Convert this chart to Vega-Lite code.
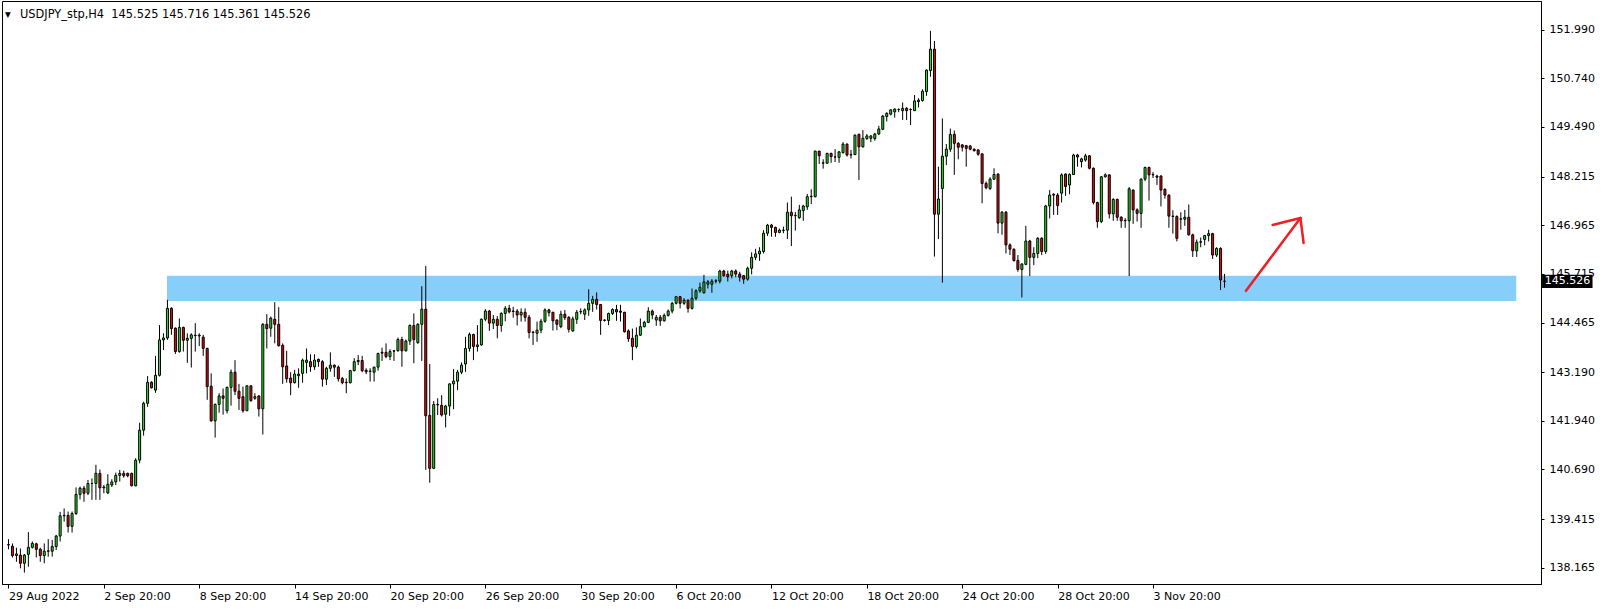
{
"$schema":"https://vega.github.io/schema/vega-lite/v6.json",
"width":1539,"height":583,"autosize":"none",
"padding":{"left":2,"top":1,"right":63,"bottom":26},
"background":"white",
"title":{"text":"▾\u2002 USDJPY_stp,H4\u00a0 145.525 145.716 145.361 145.526","anchor":"start","frame":"group","offset":-17,"dx":3,"dy":8,"font":"DejaVu Sans","fontSize":11.4,"fontWeight":"normal","color":"black","baseline":"middle"},
"datasets":{
"bars":[
{"i":0,"o":138.75,"h":138.90,"l":138.64,"c":138.76},
{"i":1,"o":138.72,"h":138.79,"l":138.43,"c":138.48},
{"i":2,"o":138.48,"h":138.68,"l":138.32,"c":138.52},
{"i":3,"o":138.49,"h":138.66,"l":138.15,"c":138.28},
{"i":4,"o":138.28,"h":138.52,"l":138.04,"c":138.49},
{"i":5,"o":138.51,"h":139.08,"l":138.19,"c":138.69},
{"i":6,"o":138.69,"h":138.84,"l":138.66,"c":138.79},
{"i":7,"o":138.78,"h":138.81,"l":138.43,"c":138.64},
{"i":8,"o":138.64,"h":138.68,"l":138.32,"c":138.48},
{"i":9,"o":138.48,"h":138.79,"l":138.28,"c":138.59},
{"i":10,"o":138.59,"h":138.90,"l":138.45,"c":138.60},
{"i":11,"o":138.59,"h":138.88,"l":138.45,"c":138.71},
{"i":12,"o":138.71,"h":139.01,"l":138.62,"c":138.98},
{"i":13,"o":138.98,"h":139.60,"l":138.84,"c":139.50},
{"i":14,"o":139.50,"h":139.69,"l":139.35,"c":139.51},
{"i":15,"o":139.51,"h":139.61,"l":139.07,"c":139.23},
{"i":16,"o":139.23,"h":139.61,"l":139.07,"c":139.56},
{"i":17,"o":139.56,"h":140.23,"l":139.52,"c":140.05},
{"i":18,"o":140.05,"h":140.25,"l":139.92,"c":140.21},
{"i":19,"o":140.21,"h":140.27,"l":139.86,"c":140.08},
{"i":20,"o":140.08,"h":140.42,"l":140.03,"c":140.33},
{"i":21,"o":140.33,"h":140.46,"l":139.91,"c":140.33},
{"i":22,"o":140.33,"h":140.81,"l":139.91,"c":140.59},
{"i":23,"o":140.59,"h":140.69,"l":139.91,"c":140.22},
{"i":24,"o":140.22,"h":140.29,"l":140.08,"c":140.24},
{"i":25,"o":140.09,"h":140.57,"l":140.06,"c":140.31},
{"i":26,"o":140.29,"h":140.44,"l":140.24,"c":140.37},
{"i":27,"o":140.37,"h":140.61,"l":140.29,"c":140.54},
{"i":28,"o":140.54,"h":140.68,"l":140.38,"c":140.59},
{"i":29,"o":140.59,"h":140.66,"l":140.48,"c":140.53},
{"i":30,"o":140.59,"h":140.61,"l":140.49,"c":140.53},
{"i":31,"o":140.59,"h":140.61,"l":140.26,"c":140.27},
{"i":32,"o":140.27,"h":140.98,"l":140.26,"c":140.93},
{"i":33,"o":140.93,"h":141.89,"l":140.85,"c":141.70},
{"i":34,"o":141.70,"h":142.43,"l":141.56,"c":142.39},
{"i":35,"o":142.39,"h":143.09,"l":142.30,"c":142.93},
{"i":36,"o":142.93,"h":142.96,"l":142.77,"c":142.79},
{"i":37,"o":142.73,"h":143.61,"l":142.66,"c":143.11},
{"i":38,"o":143.11,"h":144.40,"l":143.08,"c":144.02},
{"i":39,"o":144.02,"h":144.19,"l":143.76,"c":144.07},
{"i":40,"o":144.07,"h":145.05,"l":144.02,"c":144.83},
{"i":41,"o":144.83,"h":144.86,"l":144.15,"c":144.31},
{"i":42,"o":144.32,"h":144.34,"l":143.66,"c":143.72},
{"i":43,"o":143.72,"h":144.57,"l":143.69,"c":144.34},
{"i":44,"o":144.34,"h":144.36,"l":143.72,"c":144.01},
{"i":45,"o":144.01,"h":144.19,"l":143.43,"c":144.06},
{"i":46,"o":144.06,"h":144.19,"l":143.31,"c":144.15},
{"i":47,"o":144.13,"h":144.45,"l":143.72,"c":144.14},
{"i":48,"o":144.14,"h":144.19,"l":143.86,"c":144.12},
{"i":49,"o":144.09,"h":144.15,"l":143.61,"c":143.80},
{"i":50,"o":143.80,"h":143.82,"l":142.48,"c":142.82},
{"i":51,"o":142.83,"h":143.16,"l":141.92,"c":141.94},
{"i":52,"o":141.94,"h":142.39,"l":141.51,"c":142.36},
{"i":53,"o":142.36,"h":142.65,"l":142.15,"c":142.58},
{"i":54,"o":142.58,"h":142.77,"l":142.10,"c":142.52},
{"i":55,"o":142.20,"h":142.82,"l":142.13,"c":142.80},
{"i":56,"o":142.80,"h":143.26,"l":142.33,"c":143.19},
{"i":57,"o":143.19,"h":143.50,"l":142.60,"c":142.70},
{"i":58,"o":142.70,"h":142.89,"l":142.22,"c":142.52},
{"i":59,"o":142.56,"h":142.82,"l":142.15,"c":142.20},
{"i":60,"o":142.20,"h":142.85,"l":142.19,"c":142.84},
{"i":61,"o":142.84,"h":142.85,"l":142.43,"c":142.46},
{"i":62,"o":142.52,"h":142.65,"l":142.48,"c":142.56},
{"i":63,"o":142.58,"h":142.60,"l":142.05,"c":142.25},
{"i":64,"o":142.25,"h":144.45,"l":141.59,"c":144.42},
{"i":65,"o":144.42,"h":144.68,"l":143.80,"c":144.31},
{"i":66,"o":144.32,"h":144.62,"l":144.10,"c":144.58},
{"i":67,"o":144.55,"h":144.99,"l":143.93,"c":144.42},
{"i":68,"o":144.42,"h":144.86,"l":143.85,"c":143.87},
{"i":69,"o":143.88,"h":143.93,"l":142.89,"c":143.33},
{"i":70,"o":143.35,"h":143.74,"l":142.92,"c":143.02},
{"i":71,"o":143.04,"h":143.19,"l":142.60,"c":142.92},
{"i":72,"o":142.92,"h":143.25,"l":142.90,"c":143.14},
{"i":73,"o":143.10,"h":143.29,"l":142.79,"c":143.14},
{"i":74,"o":143.16,"h":143.54,"l":142.92,"c":143.50},
{"i":75,"o":143.44,"h":143.80,"l":143.16,"c":143.50},
{"i":76,"o":143.46,"h":143.65,"l":143.20,"c":143.33},
{"i":77,"o":143.33,"h":143.65,"l":143.25,"c":143.50},
{"i":78,"o":143.52,"h":143.54,"l":143.33,"c":143.46},
{"i":79,"o":143.46,"h":143.50,"l":142.82,"c":143.01},
{"i":80,"o":143.01,"h":143.33,"l":142.86,"c":143.29},
{"i":81,"o":143.29,"h":143.70,"l":143.20,"c":143.37},
{"i":82,"o":143.37,"h":143.39,"l":143.07,"c":143.32},
{"i":83,"o":143.32,"h":143.36,"l":142.95,"c":143.02},
{"i":84,"o":143.03,"h":143.07,"l":142.88,"c":142.92},
{"i":85,"o":142.93,"h":143.03,"l":142.65,"c":142.92},
{"i":86,"o":142.92,"h":143.25,"l":142.90,"c":143.23},
{"i":87,"o":143.23,"h":143.55,"l":143.21,"c":143.46},
{"i":88,"o":143.46,"h":143.63,"l":143.37,"c":143.49},
{"i":89,"o":143.49,"h":143.61,"l":143.19,"c":143.23},
{"i":90,"o":143.24,"h":143.29,"l":143.14,"c":143.20},
{"i":91,"o":143.21,"h":143.29,"l":142.95,"c":143.22},
{"i":92,"o":143.19,"h":143.33,"l":142.95,"c":143.32},
{"i":93,"o":143.32,"h":143.69,"l":143.23,"c":143.67},
{"i":94,"o":143.68,"h":143.82,"l":143.48,"c":143.70},
{"i":95,"o":143.70,"h":143.93,"l":143.55,"c":143.59},
{"i":96,"o":143.59,"h":143.78,"l":143.50,"c":143.72},
{"i":97,"o":143.73,"h":143.76,"l":143.48,"c":143.74},
{"i":98,"o":143.74,"h":144.08,"l":143.72,"c":144.03},
{"i":99,"o":144.03,"h":144.10,"l":143.33,"c":143.74},
{"i":100,"o":143.74,"h":144.03,"l":143.72,"c":143.99},
{"i":101,"o":143.99,"h":144.42,"l":143.89,"c":144.39},
{"i":102,"o":144.39,"h":144.70,"l":143.42,"c":144.03},
{"i":103,"o":143.95,"h":144.45,"l":143.92,"c":144.42},
{"i":104,"o":144.42,"h":145.40,"l":143.48,"c":144.81},
{"i":105,"o":144.81,"h":145.92,"l":140.68,"c":142.07},
{"i":106,"o":142.08,"h":143.40,"l":140.35,"c":140.72},
{"i":107,"o":140.72,"h":142.45,"l":140.70,"c":142.36},
{"i":108,"o":142.35,"h":142.52,"l":142.09,"c":142.36},
{"i":109,"o":142.34,"h":142.60,"l":142.05,"c":142.09},
{"i":110,"o":142.11,"h":142.35,"l":141.77,"c":142.32},
{"i":111,"o":142.32,"h":142.90,"l":142.07,"c":142.89},
{"i":112,"o":142.89,"h":143.27,"l":142.24,"c":142.96},
{"i":113,"o":142.96,"h":143.25,"l":142.73,"c":143.19},
{"i":114,"o":143.19,"h":143.44,"l":143.14,"c":143.37},
{"i":115,"o":143.40,"h":144.10,"l":143.20,"c":143.80},
{"i":116,"o":143.80,"h":144.21,"l":143.72,"c":144.16},
{"i":117,"o":144.16,"h":144.18,"l":143.50,"c":143.85},
{"i":118,"o":143.85,"h":144.40,"l":143.72,"c":143.89},
{"i":119,"o":143.89,"h":144.57,"l":143.87,"c":144.55},
{"i":120,"o":144.55,"h":144.81,"l":144.50,"c":144.76},
{"i":121,"o":144.76,"h":144.79,"l":144.25,"c":144.45},
{"i":122,"o":144.45,"h":144.66,"l":144.30,"c":144.55},
{"i":123,"o":144.55,"h":144.63,"l":144.06,"c":144.39},
{"i":124,"o":144.39,"h":144.73,"l":144.23,"c":144.70},
{"i":125,"o":144.70,"h":144.89,"l":144.50,"c":144.83},
{"i":126,"o":144.83,"h":144.92,"l":144.70,"c":144.74},
{"i":127,"o":144.75,"h":144.87,"l":144.59,"c":144.76},
{"i":128,"o":144.76,"h":144.81,"l":144.39,"c":144.66},
{"i":129,"o":144.66,"h":144.83,"l":144.49,"c":144.73},
{"i":130,"o":144.73,"h":144.83,"l":144.49,"c":144.60},
{"i":131,"o":144.60,"h":144.66,"l":144.06,"c":144.21},
{"i":132,"o":144.21,"h":144.25,"l":143.89,"c":144.22},
{"i":133,"o":144.19,"h":144.49,"l":143.97,"c":144.27},
{"i":134,"o":144.27,"h":144.56,"l":144.19,"c":144.50},
{"i":135,"o":144.50,"h":144.83,"l":144.46,"c":144.79},
{"i":136,"o":144.79,"h":144.82,"l":144.62,"c":144.72},
{"i":137,"o":144.73,"h":144.74,"l":144.26,"c":144.51},
{"i":138,"o":144.53,"h":144.55,"l":144.27,"c":144.42},
{"i":139,"o":144.36,"h":144.77,"l":144.32,"c":144.68},
{"i":140,"o":144.68,"h":144.79,"l":144.53,"c":144.59},
{"i":141,"o":144.60,"h":144.63,"l":144.21,"c":144.29},
{"i":142,"o":144.25,"h":144.62,"l":144.23,"c":144.56},
{"i":143,"o":144.55,"h":144.79,"l":144.43,"c":144.73},
{"i":144,"o":144.74,"h":144.83,"l":144.68,"c":144.75},
{"i":145,"o":144.68,"h":144.83,"l":144.53,"c":144.79},
{"i":146,"o":144.79,"h":145.32,"l":144.64,"c":144.96},
{"i":147,"o":144.96,"h":145.15,"l":144.74,"c":145.06},
{"i":148,"o":145.06,"h":145.24,"l":144.80,"c":144.93},
{"i":149,"o":144.93,"h":144.94,"l":144.15,"c":144.52},
{"i":150,"o":144.52,"h":144.55,"l":144.49,"c":144.53},
{"i":151,"o":144.52,"h":144.72,"l":144.40,"c":144.70},
{"i":152,"o":144.70,"h":144.83,"l":144.66,"c":144.80},
{"i":153,"o":144.80,"h":144.92,"l":144.51,"c":144.74},
{"i":154,"o":144.76,"h":144.92,"l":144.49,"c":144.73},
{"i":155,"o":144.73,"h":144.74,"l":144.21,"c":144.23},
{"i":156,"o":144.25,"h":144.29,"l":143.97,"c":144.05},
{"i":157,"o":144.06,"h":144.31,"l":143.50,"c":143.85},
{"i":158,"o":143.85,"h":144.34,"l":143.80,"c":144.14},
{"i":159,"o":144.14,"h":144.57,"l":144.12,"c":144.36},
{"i":160,"o":144.36,"h":144.51,"l":144.34,"c":144.47},
{"i":161,"o":144.47,"h":144.86,"l":144.45,"c":144.76},
{"i":162,"o":144.76,"h":144.80,"l":144.55,"c":144.66},
{"i":163,"o":144.53,"h":144.66,"l":144.38,"c":144.60},
{"i":164,"o":144.60,"h":144.66,"l":144.38,"c":144.51},
{"i":165,"o":144.51,"h":144.70,"l":144.49,"c":144.65},
{"i":166,"o":144.65,"h":144.80,"l":144.62,"c":144.76},
{"i":167,"o":144.76,"h":145.00,"l":144.70,"c":144.96},
{"i":168,"o":144.96,"h":145.15,"l":144.93,"c":145.13},
{"i":169,"o":145.13,"h":145.15,"l":144.83,"c":144.96},
{"i":170,"o":144.96,"h":145.09,"l":144.92,"c":145.04},
{"i":171,"o":145.04,"h":145.06,"l":144.72,"c":144.83},
{"i":172,"o":144.83,"h":145.34,"l":144.80,"c":145.09},
{"i":173,"o":145.09,"h":145.32,"l":145.04,"c":145.28},
{"i":174,"o":145.28,"h":145.49,"l":145.23,"c":145.37},
{"i":175,"o":145.23,"h":145.69,"l":145.21,"c":145.51},
{"i":176,"o":145.45,"h":145.56,"l":145.34,"c":145.51},
{"i":177,"o":145.45,"h":145.58,"l":145.23,"c":145.53},
{"i":178,"o":145.53,"h":145.58,"l":145.47,"c":145.54},
{"i":179,"o":145.53,"h":145.82,"l":145.47,"c":145.79},
{"i":180,"o":145.79,"h":145.82,"l":145.64,"c":145.67},
{"i":181,"o":145.71,"h":145.80,"l":145.52,"c":145.64},
{"i":182,"o":145.67,"h":145.82,"l":145.60,"c":145.79},
{"i":183,"o":145.79,"h":145.83,"l":145.63,"c":145.71},
{"i":184,"o":145.71,"h":145.77,"l":145.52,"c":145.63},
{"i":185,"o":145.67,"h":145.69,"l":145.46,"c":145.58},
{"i":186,"o":145.58,"h":145.90,"l":145.54,"c":145.86},
{"i":187,"o":145.86,"h":146.27,"l":145.70,"c":146.14},
{"i":188,"o":146.14,"h":146.36,"l":146.07,"c":146.23},
{"i":189,"o":146.23,"h":146.40,"l":146.05,"c":146.30},
{"i":190,"o":146.29,"h":146.84,"l":146.24,"c":146.76},
{"i":191,"o":146.76,"h":147.00,"l":146.69,"c":146.97},
{"i":192,"o":146.97,"h":147.00,"l":146.67,"c":146.91},
{"i":193,"o":146.91,"h":146.93,"l":146.67,"c":146.78},
{"i":194,"o":146.78,"h":146.88,"l":146.76,"c":146.84},
{"i":195,"o":146.83,"h":146.93,"l":146.76,"c":146.84},
{"i":196,"o":146.84,"h":147.55,"l":146.61,"c":147.30},
{"i":197,"o":147.30,"h":147.70,"l":146.43,"c":147.21},
{"i":198,"o":147.21,"h":147.31,"l":146.83,"c":147.22},
{"i":199,"o":147.16,"h":147.49,"l":147.13,"c":147.36},
{"i":200,"o":147.34,"h":147.49,"l":147.08,"c":147.46},
{"i":201,"o":147.44,"h":147.77,"l":147.36,"c":147.70},
{"i":202,"o":147.70,"h":147.89,"l":147.51,"c":147.71},
{"i":203,"o":147.70,"h":148.88,"l":147.68,"c":148.87},
{"i":204,"o":148.87,"h":148.87,"l":148.54,"c":148.75},
{"i":205,"o":148.56,"h":148.66,"l":148.42,"c":148.57},
{"i":206,"o":148.56,"h":148.83,"l":148.54,"c":148.81},
{"i":207,"o":148.81,"h":148.83,"l":148.57,"c":148.73},
{"i":208,"o":148.72,"h":148.92,"l":148.59,"c":148.72},
{"i":209,"o":148.71,"h":148.87,"l":148.57,"c":148.85},
{"i":210,"o":148.83,"h":149.10,"l":148.81,"c":149.05},
{"i":211,"o":149.05,"h":149.07,"l":148.73,"c":148.77},
{"i":212,"o":148.78,"h":148.90,"l":148.68,"c":148.77},
{"i":213,"o":148.78,"h":149.30,"l":148.77,"c":149.28},
{"i":214,"o":149.30,"h":149.32,"l":148.13,"c":148.98},
{"i":215,"o":148.98,"h":149.41,"l":148.96,"c":149.20},
{"i":216,"o":149.19,"h":149.31,"l":149.16,"c":149.26},
{"i":217,"o":149.20,"h":149.28,"l":149.10,"c":149.26},
{"i":218,"o":149.19,"h":149.34,"l":149.14,"c":149.31},
{"i":219,"o":149.31,"h":149.52,"l":149.28,"c":149.44},
{"i":220,"o":149.43,"h":149.80,"l":149.41,"c":149.77},
{"i":221,"o":149.76,"h":149.87,"l":149.63,"c":149.84},
{"i":222,"o":149.82,"h":149.94,"l":149.79,"c":149.93},
{"i":223,"o":149.88,"h":149.97,"l":149.73,"c":149.95},
{"i":224,"o":149.94,"h":149.97,"l":149.87,"c":149.94},
{"i":225,"o":149.91,"h":150.12,"l":149.67,"c":149.97},
{"i":226,"o":149.97,"h":150.00,"l":149.67,"c":149.91},
{"i":227,"o":149.94,"h":149.97,"l":149.54,"c":149.94},
{"i":228,"o":149.91,"h":150.31,"l":149.90,"c":150.16},
{"i":229,"o":150.14,"h":150.23,"l":149.99,"c":150.18},
{"i":230,"o":150.17,"h":150.46,"l":150.14,"c":150.41},
{"i":231,"o":150.40,"h":150.97,"l":150.29,"c":150.95},
{"i":232,"o":150.94,"h":151.96,"l":150.78,"c":151.49},
{"i":233,"o":151.49,"h":151.70,"l":146.16,"c":147.25},
{"i":234,"o":147.25,"h":148.47,"l":146.61,"c":147.64},
{"i":235,"o":147.91,"h":149.71,"l":145.49,"c":148.74},
{"i":236,"o":148.74,"h":149.05,"l":148.51,"c":148.92},
{"i":237,"o":148.92,"h":149.45,"l":148.85,"c":149.30},
{"i":238,"o":149.30,"h":149.40,"l":148.26,"c":149.07},
{"i":239,"o":149.07,"h":149.10,"l":148.66,"c":148.97},
{"i":240,"o":149.03,"h":149.05,"l":148.86,"c":148.97},
{"i":241,"o":149.01,"h":149.03,"l":148.47,"c":148.94},
{"i":242,"o":149.00,"h":149.03,"l":148.89,"c":148.92},
{"i":243,"o":148.92,"h":148.94,"l":148.86,"c":148.88},
{"i":244,"o":148.90,"h":148.92,"l":148.75,"c":148.79},
{"i":245,"o":148.80,"h":148.81,"l":147.53,"c":148.04},
{"i":246,"o":148.04,"h":148.09,"l":147.89,"c":147.93},
{"i":247,"o":147.91,"h":148.20,"l":147.87,"c":148.15},
{"i":248,"o":148.15,"h":148.43,"l":148.13,"c":148.27},
{"i":249,"o":148.28,"h":148.30,"l":146.76,"c":147.02},
{"i":250,"o":147.02,"h":147.33,"l":146.72,"c":147.30},
{"i":251,"o":147.30,"h":147.33,"l":146.24,"c":146.46},
{"i":252,"o":146.46,"h":146.50,"l":146.20,"c":146.35},
{"i":253,"o":146.35,"h":146.37,"l":146.03,"c":146.06},
{"i":254,"o":146.06,"h":146.20,"l":145.77,"c":145.83},
{"i":255,"o":145.83,"h":145.99,"l":145.11,"c":145.97},
{"i":256,"o":145.96,"h":146.95,"l":145.94,"c":146.56},
{"i":257,"o":146.56,"h":146.59,"l":145.66,"c":146.14},
{"i":258,"o":146.14,"h":146.40,"l":145.94,"c":146.24},
{"i":259,"o":146.24,"h":146.66,"l":146.12,"c":146.63},
{"i":260,"o":146.63,"h":146.66,"l":146.20,"c":146.29},
{"i":261,"o":146.29,"h":147.49,"l":146.23,"c":147.46},
{"i":262,"o":147.46,"h":147.87,"l":147.14,"c":147.74},
{"i":263,"o":147.74,"h":147.79,"l":147.23,"c":147.76},
{"i":264,"o":147.74,"h":147.79,"l":147.23,"c":147.47},
{"i":265,"o":147.79,"h":148.30,"l":147.55,"c":148.26},
{"i":266,"o":148.28,"h":148.30,"l":147.72,"c":147.96},
{"i":267,"o":148.00,"h":148.30,"l":147.76,"c":148.27},
{"i":268,"o":148.27,"h":148.80,"l":148.26,"c":148.77},
{"i":269,"o":148.77,"h":148.80,"l":148.47,"c":148.72},
{"i":270,"o":148.60,"h":148.70,"l":148.45,"c":148.67},
{"i":271,"o":148.64,"h":148.80,"l":148.60,"c":148.75},
{"i":272,"o":148.75,"h":148.77,"l":148.40,"c":148.43},
{"i":273,"o":148.43,"h":148.45,"l":147.50,"c":147.55},
{"i":274,"o":147.55,"h":147.57,"l":146.90,"c":147.06},
{"i":275,"o":147.06,"h":148.23,"l":147.02,"c":148.21},
{"i":276,"o":148.21,"h":148.30,"l":148.19,"c":148.26},
{"i":277,"o":148.26,"h":148.28,"l":147.14,"c":147.26},
{"i":278,"o":147.26,"h":147.66,"l":147.08,"c":147.63},
{"i":279,"o":147.63,"h":147.65,"l":147.08,"c":147.17},
{"i":280,"o":147.17,"h":147.20,"l":146.90,"c":147.08},
{"i":281,"o":147.08,"h":147.15,"l":146.90,"c":147.09},
{"i":282,"o":147.08,"h":147.95,"l":145.66,"c":147.90},
{"i":283,"o":147.87,"h":147.88,"l":147.00,"c":147.36},
{"i":284,"o":147.36,"h":147.40,"l":147.06,"c":147.27},
{"i":285,"o":147.27,"h":148.17,"l":146.90,"c":148.15},
{"i":286,"o":148.15,"h":148.47,"l":148.10,"c":148.45},
{"i":287,"o":148.45,"h":148.47,"l":147.60,"c":148.26},
{"i":288,"o":148.26,"h":148.33,"l":148.18,"c":148.27},
{"i":289,"o":148.23,"h":148.26,"l":148.00,"c":148.20},
{"i":290,"o":148.23,"h":148.25,"l":147.45,"c":147.87},
{"i":291,"o":147.89,"h":147.91,"l":147.65,"c":147.74},
{"i":292,"o":147.74,"h":147.76,"l":146.90,"c":147.20},
{"i":293,"o":147.19,"h":147.35,"l":146.75,"c":147.20},
{"i":294,"o":147.19,"h":147.22,"l":146.55,"c":146.63},
{"i":295,"o":147.12,"h":147.30,"l":146.85,"c":147.13},
{"i":296,"o":147.12,"h":147.36,"l":146.95,"c":147.17},
{"i":297,"o":147.17,"h":147.50,"l":146.70,"c":146.72},
{"i":298,"o":146.72,"h":146.75,"l":146.15,"c":146.31},
{"i":299,"o":146.31,"h":146.60,"l":146.15,"c":146.53},
{"i":300,"o":146.53,"h":146.65,"l":146.40,"c":146.54},
{"i":301,"o":146.60,"h":146.72,"l":146.45,"c":146.70},
{"i":302,"o":146.70,"h":146.85,"l":146.55,"c":146.75},
{"i":303,"o":146.75,"h":146.77,"l":146.10,"c":146.20},
{"i":304,"o":146.20,"h":146.40,"l":146.15,"c":146.37},
{"i":305,"o":146.37,"h":146.40,"l":145.30,"c":145.56},
{"i":306,"o":145.525,"h":145.716,"l":145.361,"c":145.526}
],
"zone":[{"i1":39.875,"i2":379.4,"lo":145.02,"hi":145.67}],
"arrow":[
{"xa":311.4,"ya":145.28,"xb":325.1,"yb":147.15},
{"xa":325.1,"ya":147.15,"xb":318.1,"yb":146.97},
{"xa":325.1,"ya":147.15,"xb":325.9,"yb":146.51}
],
"tag":[{"i1":385.9,"i2":398.6,"lo":145.356,"hi":145.696,"ti":386.6,"p":145.526,"label":"145.526"}]
},
"layer":[
{"data":{"name":"zone"},"mark":{"type":"rect","color":"#87CEFA"},
 "encoding":{
  "x":{"field":"i1","type":"quantitative","title":null,"scale":{"domain":[-0.375,384.375],"nice":false,"zero":false},
   "axis":{"orient":"bottom","values":[0,24,48,72,96,120,144,168,192,216,240,264,288],"labelExpr":"['29 Aug 2022','2 Sep 20:00','8 Sep 20:00','14 Sep 20:00','20 Sep 20:00','26 Sep 20:00','30 Sep 20:00','6 Oct 20:00','12 Oct 20:00','18 Oct 20:00','24 Oct 20:00','28 Oct 20:00','3 Nov 20:00'][round(datum.value/24)]"}},
  "x2":{"field":"i2"},
  "y":{"field":"lo","type":"quantitative","title":null,"scale":{"domain":[137.748,152.727],"nice":false,"zero":false},
   "axis":{"orient":"right","values":[138.165,139.415,140.69,141.94,143.19,144.465,145.715,146.965,148.215,149.49,150.74,151.99],"format":".3f"}},
  "y2":{"field":"hi"}}},
{"data":{"name":"bars"},"mark":{"type":"rule","color":"black","strokeWidth":1},
 "encoding":{
  "x":{"field":"i","type":"quantitative","title":null,"scale":{"domain":[-0.375,384.375],"nice":false,"zero":false},
   "axis":{"orient":"bottom","values":[0,24,48,72,96,120,144,168,192,216,240,264,288],"labelExpr":"['29 Aug 2022','2 Sep 20:00','8 Sep 20:00','14 Sep 20:00','20 Sep 20:00','26 Sep 20:00','30 Sep 20:00','6 Oct 20:00','12 Oct 20:00','18 Oct 20:00','24 Oct 20:00','28 Oct 20:00','3 Nov 20:00'][round(datum.value/24)]"}},
  "y":{"field":"l","type":"quantitative","title":null,"scale":{"domain":[137.748,152.727],"nice":false,"zero":false},
   "axis":{"orient":"right","values":[138.165,139.415,140.69,141.94,143.19,144.465,145.715,146.965,148.215,149.49,150.74,151.99],"format":".3f"}},
  "y2":{"field":"h"}}},
{"data":{"name":"bars"},"mark":{"type":"bar","size":2,"stroke":"black","strokeWidth":1},
 "encoding":{
  "x":{"field":"i","type":"quantitative","title":null,"scale":{"domain":[-0.375,384.375],"nice":false,"zero":false},
   "axis":{"orient":"bottom","values":[0,24,48,72,96,120,144,168,192,216,240,264,288],"labelExpr":"['29 Aug 2022','2 Sep 20:00','8 Sep 20:00','14 Sep 20:00','20 Sep 20:00','26 Sep 20:00','30 Sep 20:00','6 Oct 20:00','12 Oct 20:00','18 Oct 20:00','24 Oct 20:00','28 Oct 20:00','3 Nov 20:00'][round(datum.value/24)]"}},
  "y":{"field":"o","type":"quantitative","title":null,"scale":{"domain":[137.748,152.727],"nice":false,"zero":false},
   "axis":{"orient":"right","values":[138.165,139.415,140.69,141.94,143.19,144.465,145.715,146.965,148.215,149.49,150.74,151.99],"format":".3f"}},
  "y2":{"field":"c"},
  "fill":{"condition":{"test":"datum.c >= datum.o","value":"#22ea22"},"value":"#ea0a0a"}}},
{"data":{"name":"arrow"},"mark":{"type":"rule","color":"#f01e24","strokeWidth":2.5,"strokeCap":"round"},
 "encoding":{
  "x":{"field":"xa","type":"quantitative","title":null,"scale":{"domain":[-0.375,384.375],"nice":false,"zero":false},
   "axis":{"orient":"bottom","values":[0,24,48,72,96,120,144,168,192,216,240,264,288],"labelExpr":"['29 Aug 2022','2 Sep 20:00','8 Sep 20:00','14 Sep 20:00','20 Sep 20:00','26 Sep 20:00','30 Sep 20:00','6 Oct 20:00','12 Oct 20:00','18 Oct 20:00','24 Oct 20:00','28 Oct 20:00','3 Nov 20:00'][round(datum.value/24)]"}},
  "x2":{"field":"xb"},
  "y":{"field":"ya","type":"quantitative","title":null,"scale":{"domain":[137.748,152.727],"nice":false,"zero":false},
   "axis":{"orient":"right","values":[138.165,139.415,140.69,141.94,143.19,144.465,145.715,146.965,148.215,149.49,150.74,151.99],"format":".3f"}},
  "y2":{"field":"yb"}}},
{"data":{"name":"tag"},"mark":{"type":"rect","color":"black"},
 "encoding":{
  "x":{"field":"i1","type":"quantitative","title":null,"scale":{"domain":[-0.375,384.375],"nice":false,"zero":false},
   "axis":{"orient":"bottom","values":[0,24,48,72,96,120,144,168,192,216,240,264,288],"labelExpr":"['29 Aug 2022','2 Sep 20:00','8 Sep 20:00','14 Sep 20:00','20 Sep 20:00','26 Sep 20:00','30 Sep 20:00','6 Oct 20:00','12 Oct 20:00','18 Oct 20:00','24 Oct 20:00','28 Oct 20:00','3 Nov 20:00'][round(datum.value/24)]"}},
  "x2":{"field":"i2"},
  "y":{"field":"lo","type":"quantitative","title":null,"scale":{"domain":[137.748,152.727],"nice":false,"zero":false},
   "axis":{"orient":"right","values":[138.165,139.415,140.69,141.94,143.19,144.465,145.715,146.965,148.215,149.49,150.74,151.99],"format":".3f"}},
  "y2":{"field":"hi"}}},
{"data":{"name":"tag"},"mark":{"type":"text","color":"white","align":"left","baseline":"middle","font":"DejaVu Sans","fontSize":11},
 "encoding":{
  "x":{"field":"ti","type":"quantitative","title":null,"scale":{"domain":[-0.375,384.375],"nice":false,"zero":false},
   "axis":{"orient":"bottom","values":[0,24,48,72,96,120,144,168,192,216,240,264,288],"labelExpr":"['29 Aug 2022','2 Sep 20:00','8 Sep 20:00','14 Sep 20:00','20 Sep 20:00','26 Sep 20:00','30 Sep 20:00','6 Oct 20:00','12 Oct 20:00','18 Oct 20:00','24 Oct 20:00','28 Oct 20:00','3 Nov 20:00'][round(datum.value/24)]"}},
  "y":{"field":"p","type":"quantitative","title":null,"scale":{"domain":[137.748,152.727],"nice":false,"zero":false},
   "axis":{"orient":"right","values":[138.165,139.415,140.69,141.94,143.19,144.465,145.715,146.965,148.215,149.49,150.74,151.99],"format":".3f"}},
  "text":{"field":"label"}}}
],
"config":{
 "view":{"stroke":"black","strokeWidth":1},
 "axis":{"grid":false,"domainColor":"black","domainWidth":1,"tickColor":"black","tickWidth":1,"labelColor":"black","labelFont":"DejaVu Sans","labelFontSize":11,"labelOverlap":false,"labelFlush":false,"labelBound":false},
 "axisX":{"tickSize":4,"labelAlign":"left","labelBaseline":"top","labelPadding":2},
 "axisY":{"tickSize":3,"labelPadding":5}
}
}
